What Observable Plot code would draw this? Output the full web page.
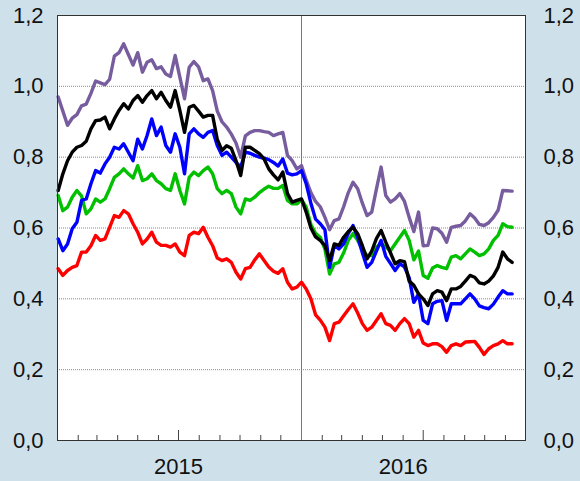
<!DOCTYPE html>
<html><head><meta charset="utf-8">
<script src="https://cdn.jsdelivr.net/npm/d3@7"></script>
<script src="https://cdn.jsdelivr.net/npm/@observablehq/plot@0.6"></script>
<style>html,body{margin:0;padding:0;background:#cee0ea;}</style>
</head><body><div id="chart"></div>
<script>
// Weekly observations starting on this date
const startDate = "2015-01-02";

const purple = [0.97,0.93,0.89,0.91,0.92,0.945,0.95,0.98,1.015,1.01,1.005,1.02,1.085,1.095,1.12,1.09,1.06,1.095,1.04,1.068,
1.075,1.05,1.055,1.035,1.028,1.087,1.026,0.965,1.054,1.07,1.055,1.016,1.021,0.988,0.93,0.90,0.885,0.865,0.84,0.80,
0.86,0.87,0.875,0.875,0.872,0.87,0.861,0.866,0.870,0.805,0.79,0.767,0.776,0.735,0.70,0.675,0.66,0.63,0.595,0.621,
0.626,0.66,0.70,0.729,0.711,0.67,0.635,0.645,0.71,0.772,0.692,0.673,0.682,0.697,0.675,0.63,0.59,0.645,0.55,0.551,
0.60,0.598,0.585,0.56,0.602,0.605,0.607,0.62,0.64,0.628,0.61,0.607,0.615,0.63,0.65,0.706,0.705,0.704];

const black = [0.706,0.753,0.79,0.814,0.828,0.833,0.845,0.88,0.903,0.905,0.913,0.88,0.908,0.932,0.951,0.936,0.96,0.974,0.955,0.974,
0.988,0.965,0.983,0.96,0.941,0.988,0.932,0.870,0.941,0.946,0.93,0.913,0.918,0.918,0.85,0.819,0.832,0.825,0.79,0.748,
0.828,0.828,0.819,0.81,0.795,0.767,0.75,0.736,0.758,0.697,0.673,0.678,0.682,0.645,0.60,0.575,0.565,0.55,0.508,0.555,
0.551,0.574,0.59,0.602,0.584,0.55,0.513,0.535,0.57,0.593,0.56,0.53,0.499,0.508,0.505,0.45,0.438,0.414,0.40,0.381,
0.414,0.423,0.419,0.395,0.428,0.428,0.435,0.45,0.466,0.461,0.445,0.442,0.45,0.465,0.489,0.532,0.513,0.503];

const blue = [0.569,0.536,0.555,0.598,0.616,0.678,0.682,0.725,0.762,0.755,0.781,0.80,0.828,0.823,0.838,0.814,0.79,0.851,0.823,0.861,
0.908,0.861,0.885,0.833,0.814,0.866,0.828,0.753,0.866,0.880,0.866,0.856,0.870,0.875,0.833,0.805,0.814,0.80,0.785,0.772,
0.814,0.811,0.805,0.80,0.797,0.793,0.785,0.775,0.795,0.755,0.75,0.753,0.762,0.725,0.67,0.625,0.612,0.595,0.489,0.551,
0.541,0.555,0.585,0.607,0.574,0.53,0.489,0.503,0.535,0.565,0.52,0.50,0.48,0.499,0.49,0.46,0.39,0.414,0.339,0.33,
0.386,0.393,0.395,0.339,0.386,0.386,0.386,0.40,0.414,0.40,0.38,0.375,0.372,0.385,0.405,0.423,0.414,0.414];

const green = [0.692,0.649,0.659,0.687,0.706,0.69,0.640,0.654,0.682,0.673,0.682,0.711,0.743,0.753,0.767,0.753,0.741,0.776,0.734,0.739,
0.753,0.734,0.725,0.711,0.706,0.753,0.706,0.668,0.743,0.758,0.748,0.762,0.772,0.753,0.711,0.697,0.706,0.697,0.659,0.640,
0.682,0.678,0.687,0.70,0.71,0.718,0.712,0.712,0.720,0.678,0.668,0.668,0.680,0.659,0.61,0.585,0.574,0.54,0.470,0.499,
0.503,0.53,0.565,0.584,0.565,0.54,0.522,0.522,0.546,0.555,0.546,0.536,0.555,0.574,0.593,0.565,0.51,0.535,0.466,0.458,
0.487,0.494,0.489,0.485,0.518,0.522,0.513,0.527,0.541,0.532,0.522,0.527,0.541,0.565,0.579,0.612,0.604,0.602];

const red = [0.485,0.466,0.48,0.489,0.494,0.532,0.532,0.55,0.579,0.565,0.569,0.602,0.635,0.630,0.649,0.640,0.612,0.588,0.555,0.569,
0.588,0.560,0.551,0.551,0.546,0.555,0.532,0.522,0.579,0.588,0.584,0.602,0.574,0.55,0.515,0.508,0.513,0.503,0.475,0.456,
0.485,0.489,0.51,0.527,0.508,0.49,0.478,0.472,0.485,0.447,0.428,0.433,0.447,0.428,0.40,0.355,0.34,0.32,0.282,0.330,
0.334,0.352,0.37,0.386,0.36,0.33,0.311,0.32,0.339,0.358,0.330,0.325,0.311,0.33,0.344,0.330,0.292,0.311,0.275,0.268,
0.273,0.273,0.265,0.249,0.268,0.273,0.268,0.278,0.279,0.280,0.263,0.243,0.259,0.268,0.273,0.282,0.273,0.273];

const yTicks = [0, 0.2, 0.4, 0.6, 0.8, 1.0, 1.2];
const yearLabelDates = ["2015-07-01", "2016-06-01"];
const yearLabels = ["2015", "2016"];
const xDomain = ["2015-01-01", "2016-12-01"];
const yearBreak = "2016-01-01";

const seriesList = [
  {name: "purple", color: "#775c9e", values: purple},
  {name: "red", color: "#ff0000", values: red},
  {name: "green", color: "#00c000", values: green},
  {name: "blue", color: "#0000ff", values: blue},
  {name: "black", color: "#000000", values: black}
];

const start = new Date(startDate);
const dates = purple.map((_, i) => d3.utcDay.offset(start, 7 * i));
const months = d3.utcMonth.range(new Date(xDomain[0]), new Date(xDomain[1]))
  .filter(d => d.getUTCMonth() !== 0);
const shortTicks = months.filter(d => d.getUTCMonth() !== 6);
const longTicks = months.filter(d => d.getUTCMonth() === 6);
const labelDates = yearLabelDates.map(d => new Date(d));
const fmt = d => d.toFixed(1).replace(".", ",");

const lineMarks = seriesList.map(s =>
  Plot.lineY(s.values.map((v, i) => ({date: dates[i], value: v})),
    {x: "date", y: "value", stroke: s.color, strokeWidth: 3.4, strokeLinejoin: "round", strokeLinecap: "round"}));

const chart = Plot.plot({
  width: 580,
  height: 481,
  marginLeft: 57,
  marginRight: 55,
  marginTop: 15,
  marginBottom: 41,
  style: {background: "#cee0ea", fontFamily: "'Liberation Sans', Arial, sans-serif", fontSize: "22px", color: "#111"},
  x: {type: "utc", domain: xDomain.map(d => new Date(d))},
  y: {domain: [0, 1.2]},
  marks: [
    Plot.frame({fill: "white", stroke: null}),
    Plot.gridY(yTicks.slice(1, -1), {stroke: "#8a8a8a", strokeOpacity: 1, strokeDasharray: "1,1"}),
    Plot.ruleX([new Date(yearBreak)], {stroke: "#777", strokeWidth: 1}),
    Plot.tickX(shortTicks, {x: d => d, insetTop: 420, stroke: "#444"}),
    Plot.tickX(longTicks, {x: d => d, insetTop: 415, stroke: "#444"}),
    ...lineMarks,
    Plot.frame({stroke: "#333", strokeWidth: 1}),
    Plot.axisY(yTicks, {anchor: "left", tickSize: 0, tickPadding: 14, tickFormat: fmt, label: null, fontSize: 22}),
    Plot.axisY(yTicks, {anchor: "right", tickSize: 0, tickPadding: 18, tickFormat: fmt, label: null, fontSize: 22}),
    Plot.axisX(labelDates, {anchor: "bottom", tickSize: 0, tickPadding: 18, tickFormat: (d, i) => yearLabels[i], label: null, fontSize: 22})
  ]
});
document.getElementById("chart").appendChild(chart);
</script>
</body></html>
